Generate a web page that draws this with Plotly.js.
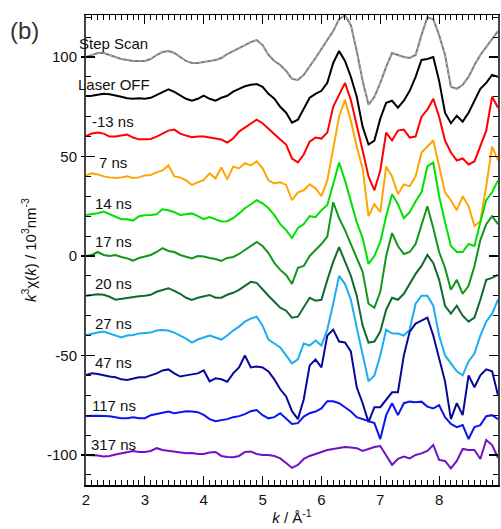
<!DOCTYPE html>
<html>
<head>
<meta charset="utf-8">
<script src="https://cdn.plot.ly/plotly-3.0.1.min.js"></script>
<style>html,body{margin:0;padding:0;background:#fff;}#chart{width:501px;height:529px;}</style>
</head>
<body>
<div id="chart"></div>
<script>
// k grid (Å^-1)
const k = [2.0,2.1,2.2,2.3,2.4,2.5,2.6,2.7,2.8,2.9,3.0,3.1,3.2,3.3,3.4,3.5,3.6,3.7,3.8,3.9,
4.0,4.1,4.2,4.3,4.4,4.5,4.6,4.7,4.8,4.9,5.0,5.1,5.2,5.3,5.4,5.5,5.6,5.7,5.8,5.9,
6.0,6.1,6.2,6.3,6.4,6.5,6.6,6.7,6.8,6.9,7.0,7.1,7.2,7.3,7.4,7.5,7.6,7.7,7.8,7.9,
8.0,8.1,8.2,8.3,8.4,8.5,8.6,8.7,8.8,8.9,9.0];

// plotted (offset) k^3 chi(k) values, 10^3 nm^-3
const stepScan = [100,101,102,102,101,100,99,98.5,98,98,98,99,101,102.5,103,102,100,98,97,97,
97.5,98,98.5,99.5,101.5,103,104.5,106,107.5,108.5,106,101,98,96,93,89,88.5,91,95,99.5,
104,108.5,113,119,121,116,103,88,76,80,87,95,102,101,100,99.5,101,111,120,119,
111,101,85,84,86,90,96,101,105,109,113];
const laserOff = [80.4,80.5,81,81.5,81.3,80.5,80,79.3,79,79.2,79,79.5,81,82.5,83.7,82.5,80.8,79,78,79,
80.6,79,78,79.5,80.5,82.6,84,85.3,86,86.4,85,81.5,79,75,72,67,68.5,74,79.5,81.5,
83,87,97,103,98,90,80,65,56,58,69,77,78,74.5,78,83,90,98.5,99,100,
88,72,66.7,70.5,67.5,72,78,84,87,91,90];
const ns_m13 = [60.3,61.5,62,61.5,60,60,60.5,61,59.5,58.6,58.6,58.8,60,61.6,63,63.5,61.5,60.5,59.7,60,
60,59.5,59,58.5,57,59,62.5,64.5,66.5,68.5,66.7,64,60.8,58.5,56,49,47,51,57.5,59.5,
59,62,75,81,87,78.4,65,53,40,33,43,62,58,63,63.5,59.5,60,70,73.5,79,
70,58,52,48,49,46,47.5,55,63,80,74.5];
const ns_7 = [40.5,41.5,41,40,39.5,39.2,39.5,40,39.2,39.5,40.5,40.7,42,43,45.5,40,39.5,38,35.7,37,
38.2,41.5,39,44.5,38.5,44.9,44,46.6,45.5,47.5,44,38,36.5,37,35.7,28,32,33,36,34,
30,38,54,70,78.5,68,55,44,20,26,22,45,40,31,36,35,40,52,55,58,
45,32,28,23,30,25,15,17.5,35,55,48];
const ns_14 = [20.6,21,21.5,22.3,21,19.5,18.5,18.5,17.8,20,20.5,20.6,21,23.5,23,22,20.6,21,21.4,20,
18.5,19.5,18.5,17.3,17.5,19,21.4,24,26,28,26.5,24,20.5,16,13,9,14,16,20,19.5,
23,25.6,36,47,38,28,17,9,-4,0,7,20,31,26,19,22,27.5,32,45,47,
30,17,5,2,2,6,5,17,28,32,38];
const ns_17 = [0,0.5,2,0.5,0,0.5,-0.5,-1.2,-2.3,-1,-0.3,0.5,2,3.9,2.5,2,0.5,-0.5,-1.2,0,
-0.3,-1,-1.5,-2.5,-1,-0.5,1,3,5,7,5,1.5,-3.5,-7,-9.5,-14,-6,-5,0,3,
6,9.7,27,19,13,6,-1,-8,-24,-26,-18,0,11.5,5,1,2,6,15,25,14,
2,-6,-17,-12,-19,-15,-5,8,16,20,16];
const ns_20 = [-20,-19.6,-19.3,-19.5,-20.5,-22,-21.5,-21.3,-20.5,-20.3,-20,-19.5,-18,-17,-16.2,-17.5,-19,-21,-22.1,-21,
-20.4,-19.6,-21,-21,-19.5,-18.5,-17,-15,-13,-13.5,-17,-20,-23,-26,-27.5,-31,-30.5,-25.5,-21,-22.5,
-22,-12,-3,4.5,-3,-10,-20,-35,-43.5,-43,-38,-27,-21,-22,-19,-14,-9,-5,0.5,-3.5,
-12,-25,-29,-25,-30,-33,-31,-22,-12,-11,-9.5];
const ns_27 = [-39.7,-39,-38.5,-38,-39,-40,-41,-40,-39.7,-39,-38.8,-38.5,-37.5,-37.2,-37.5,-38.5,-40,-41.5,-43.5,-42,
-41,-40,-41,-42,-40,-37.5,-35.5,-33,-31.5,-30.5,-35,-42,-44,-46,-50,-54,-52,-44,-45,-42.5,
-45,-37,-24,-10,-14,-22,-36,-50,-63,-60,-50,-37,-39,-39,-40,-37,-24,-20,-20,-25,
-40,-50,-54,-58,-60,-53,-49,-40,-33,-29,-22];
const ns_47 = [-59.8,-59,-59.3,-60,-60.6,-61,-62,-62.3,-61.5,-61,-61,-60,-59,-57.5,-57,-59,-60.6,-60,-59.5,-59,
-57.5,-63,-61.5,-62,-63.2,-59,-56,-50,-56,-55.5,-56,-58,-62,-67,-70.6,-78,-82,-72,-55,-52,
-56,-40,-37,-43,-43.5,-48,-66,-74,-83.5,-76,-76,-72,-68.5,-68.5,-50,-38,-34,-32.5,-31,-40,
-52,-63,-82,-74,-80,-60,-66,-60,-57,-58,-70];
const ns_117 = [-80.4,-80.2,-80.3,-80.4,-80.5,-81,-81.5,-81.6,-81,-81.6,-81.5,-80,-79.5,-79,-78.2,-79,-78.5,-78,-78.2,-78.5,
-79.9,-82,-83,-82.5,-82,-81,-80.5,-79.5,-78,-77.4,-80,-81.6,-81,-79,-81.5,-84.4,-84,-80.7,-79,-78.2,
-76.6,-73,-73,-74,-76,-78.2,-81,-82,-83.2,-84,-92,-80,-74,-80,-74,-73.2,-73.5,-73.2,-75.7,-76.6,
-75,-81,-84.4,-86,-85,-92,-86,-85,-80.5,-80,-82];
const ns_317 = [-100,-100,-100.3,-100.8,-100.5,-99.8,-99.2,-98.5,-98,-98.5,-98.5,-98,-96.6,-97.5,-98,-98.5,-99,-99.2,-99,-99.5,
-99.5,-98.8,-98.5,-100.5,-101,-101.2,-100.5,-98.5,-98.3,-99.5,-100,-100,-100.5,-101.7,-104,-106.5,-105,-102,-100.5,-99.5,
-98.5,-97.5,-97,-96.5,-96,-96.3,-96.6,-98,-97,-96,-95.5,-100,-105,-102,-100.8,-101.7,-100,-99.2,-98,-95,
-102.5,-103,-106.7,-103,-97,-97.5,-97.5,-102,-92.5,-95,-101.5];

const labels = ["Step Scan","Laser OFF","-13 ns","7 ns","14 ns","17 ns","20 ns","27 ns","47 ns","117 ns","317 ns"];
// label left edge as fraction of plot width (paper) and y in data units
const labelX = [-0.021,-0.024,0.010,0.026,0.018,0.018,0.018,0.018,0.018,0.010,0.008];
const labelY = [107,86,67.5,47.1,26.5,7.5,-13.7,-33.8,-53.4,-74.9,-94.6];
const series = [stepScan,laserOff,ns_m13,ns_7,ns_14,ns_17,ns_20,ns_27,ns_47,ns_117,ns_317];
const colors = ["#7a7a7a","#000000","#ff0000","#ffa500","#00e000","#11961a","#0d6b32","#1aaeee","#07079a","#0a14f0","#7012c4"];

const FONT = "Liberation Sans, Arial, Helvetica, sans-serif";
const traces = [];
series.forEach((s,i)=>{
  traces.push({x:k,y:s,type:"scatter",mode:"lines",line:{color:colors[i],width:2},hoverinfo:"skip",showlegend:false});
  if(i===0){
    traces.push({x:k,y:s,type:"scatter",mode:"lines",line:{color:"#c4c4c4",width:0.8,dash:"dot"},hoverinfo:"skip",showlegend:false});
  }
});
traces.push({x:[null],y:[null],yaxis:"y2",type:"scatter",mode:"lines",showlegend:false,hoverinfo:"skip"});

const annotations = labels.map((t,i)=>({x:labelX[i],y:labelY[i],xref:"paper",yref:"y",text:t,showarrow:false,
  xanchor:"left",yanchor:"middle",font:{family:FONT,size:15,color:"#111"}}));
annotations.push({x:-0.19,y:0.966,xref:"paper",yref:"paper",text:"(b)",showarrow:false,xanchor:"left",yanchor:"middle",
  font:{family:FONT,size:24,color:"#333"}});

const yr = [-115.1,121.1];
const layout = {
  width:501,height:529,
  margin:{l:86,r:3,t:15,b:44},
  paper_bgcolor:"#fff",plot_bgcolor:"#fff",
  font:{family:FONT,size:15,color:"#111"},
  showlegend:false,
  xaxis:{range:[2,9],tick0:2,dtick:1,ticks:"inside",ticklen:9,tickwidth:1.2,tickcolor:"#000",
    minor:{dtick:0.1,tick0:2,ticks:"inside",ticklen:5,tickwidth:1,tickcolor:"#000",showgrid:false},
    mirror:"ticks",showline:true,linecolor:"#000",linewidth:1.5,showgrid:false,zeroline:false,
    tickfont:{family:FONT,size:15,color:"#111"},
    title:{text:"<i>k</i> / Å<sup>-1</sup>",font:{family:FONT,size:15,color:"#111"},standoff:6}},
  yaxis:{range:yr,tickvals:[-100,-50,0,50,100],ticktext:["-100","-50","0","50","100"],
    ticks:"inside",ticklen:9,tickwidth:1.2,tickcolor:"#000",
    minor:{dtick:10,tick0:0,ticks:"inside",ticklen:5,tickwidth:1,tickcolor:"#000",showgrid:false},
    mirror:"ticks",showline:true,linecolor:"#444",linewidth:2,showgrid:false,zeroline:false,
    ticklabelstandoff:4,
    tickfont:{family:FONT,size:15,color:"#111"},
    title:{text:"<i>k</i><sup>3</sup>χ(<i>k</i>) / 10<sup>3</sup>nm<sup>-3</sup>",font:{family:FONT,size:15,color:"#111"},standoff:7}},
  yaxis2:{range:yr,overlaying:"y",side:"left",tickvals:[-100,-50,0,50,100],ticks:"outside",ticklen:4,tickwidth:1.2,tickcolor:"#000",
    showticklabels:false,showline:false,showgrid:false,zeroline:false},
  annotations:annotations
};
Plotly.newPlot("chart",traces,layout,{staticPlot:true,displayModeBar:false});
</script>
</body>
</html>
